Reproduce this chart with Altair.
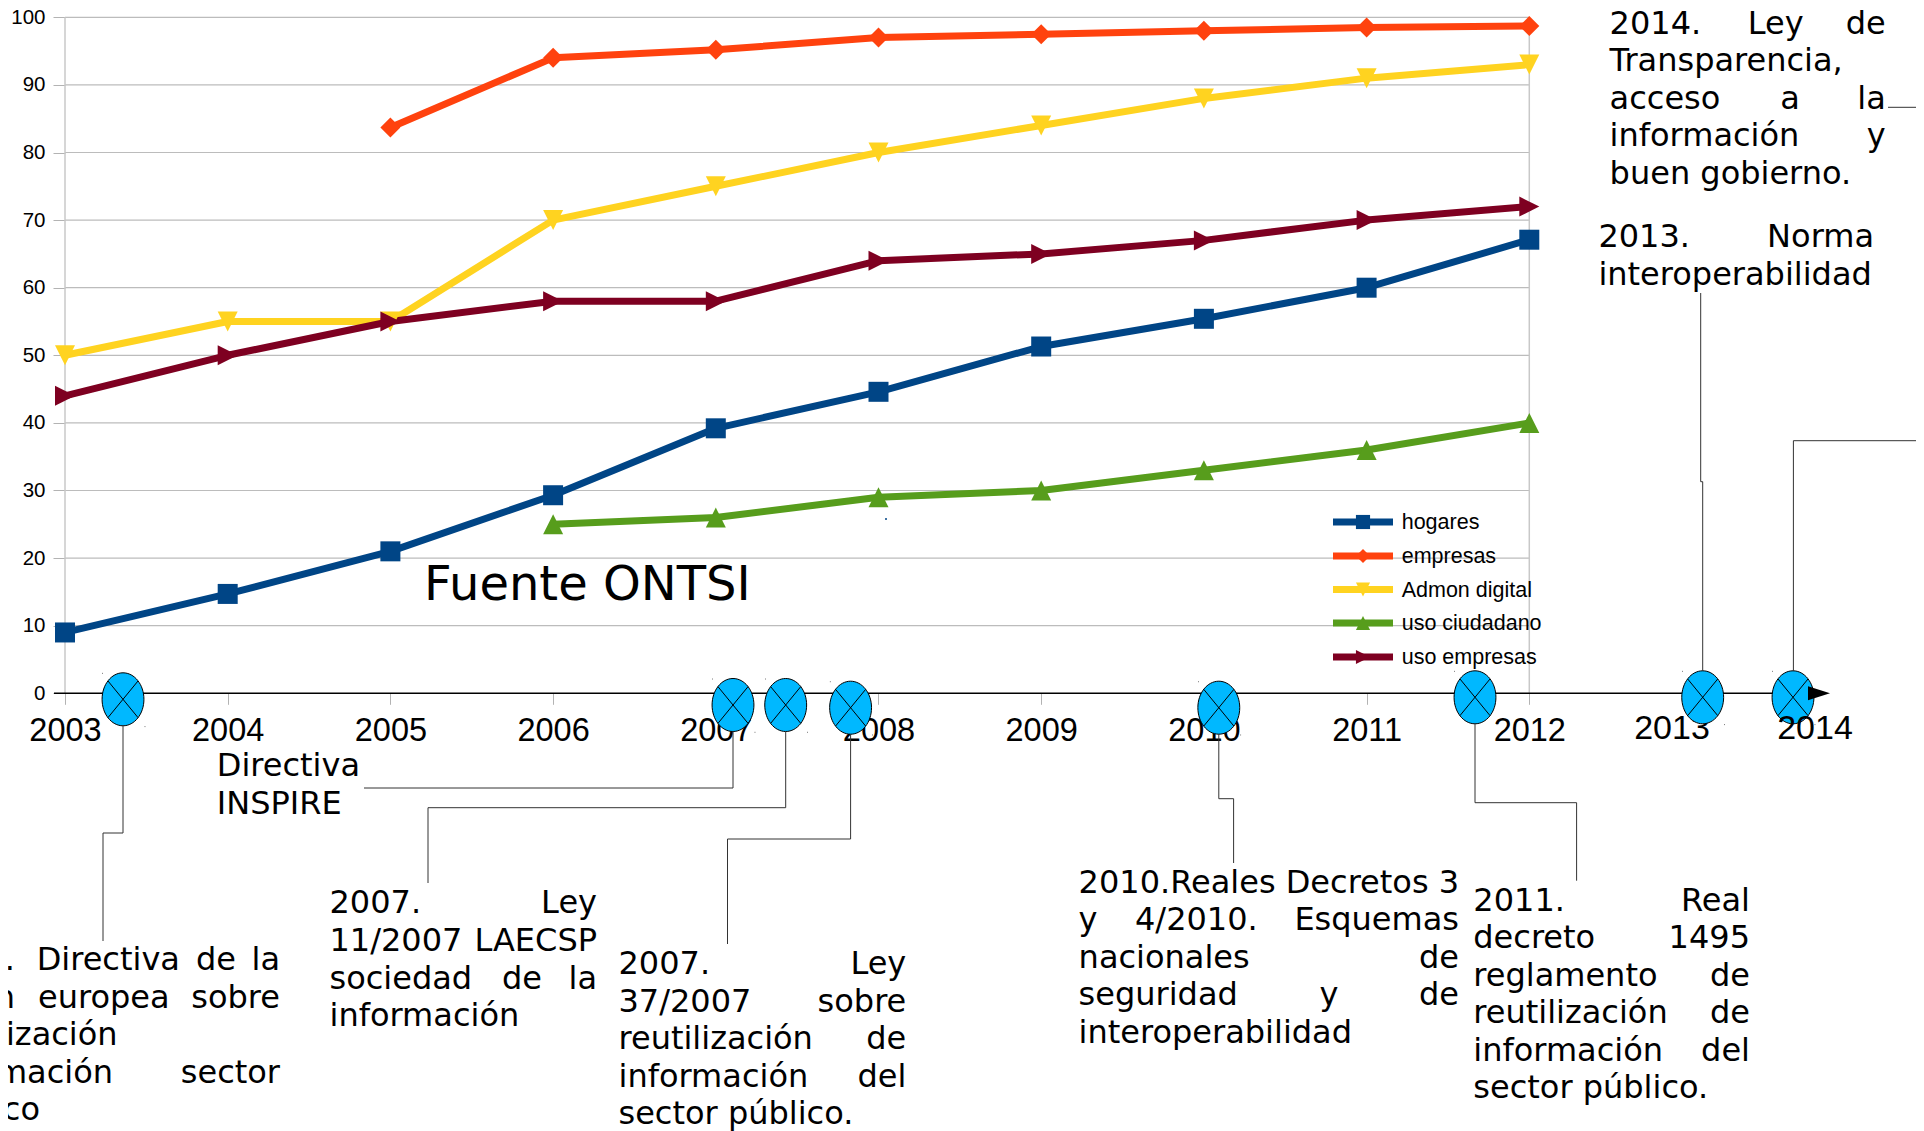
import altair as alt
import pandas as pd

years = [2003, 2004, 2005, 2006, 2007, 2008, 2009, 2010, 2011, 2012]
hogares = [9, 14.7, 21, 29.3, 39.2, 44.6, 51.3, 55.4, 60, 67.1]
empresas = [None, None, 83.7, 94, 95.2, 97, 97.5, 98, 98.5, 98.7]
admon = [50, 55, 55, 70, 75, 80, 84, 88, 91, 93]
ciudadano = [None, None, None, 25, 26, 29, 30, 33, 36, 40]
uso_empresas = [44, 50, 55, 58, 58, 64, 65, 67, 70, 72]

series_names = ["hogares", "empresas", "Admon digital", "uso ciudadano", "uso empresas"]
series_values = [hogares, empresas, admon, ciudadano, uso_empresas]
series_colors = ["#004586", "#ff420e", "#ffd320", "#579d1c", "#7e0021"]
series_shapes = [
    "M-1,-1L1,-1L1,1L-1,1Z",
    "M0,-1L1,0L0,1L-1,0Z",
    "M-1,-1L1,-1L0,1Z",
    "M0,-1L1,1L-1,1Z",
    "M-1,-1L1,0L-1,1Z",
]

W, H = 1908, 1123
font_body = "DejaVu Sans"
font_chart = "Liberation Sans"


def xd(px):
    """Page pixel column to year units."""
    return 2003 + (px - 65) / 162.7


def yd(py):
    """Page pixel row to percent units."""
    return (693.3 - py) / 6.76


xs = alt.Scale(domain=[xd(8), xd(8 + W)], range=[0, W], nice=False, zero=False)
ys = alt.Scale(domain=[yd(8 + H), yd(8)], range=[H, 0], nice=False, zero=False)


def X(f, **kw):
    return alt.X(f, type="quantitative", scale=xs, axis=kw.pop("axis", None), **kw)


def Y(f, **kw):
    return alt.Y(f, type="quantitative", scale=ys, axis=kw.pop("axis", None), **kw)


rows = []
for n, vals in zip(series_names, series_values):
    for yr, v in zip(years, vals):
        if v is not None:
            rows.append({"year": yr, "value": v, "serie": n})
df = pd.DataFrame(rows)

color = alt.Color("serie:N", scale=alt.Scale(domain=series_names, range=series_colors), legend=None)
shape = alt.Shape("serie:N", scale=alt.Scale(domain=series_names, range=series_shapes), legend=None)

# grid -----------------------------------------------------------------
grid_vals = list(range(10, 101, 10))
grid = alt.Chart(pd.DataFrame({"v": grid_vals, "a": 2003, "b": 2012})).mark_rule(
    color="#bcbcbc", strokeWidth=1.2
).encode(x=X("a:Q"), x2="b:Q", y=Y("v:Q"))
vgrid = alt.Chart(pd.DataFrame({"x": [2003, 2012], "a": 0, "b": 100})).mark_rule(
    color="#c8c8c8", strokeWidth=1.5
).encode(x=X("x:Q"), y=Y("a:Q"), y2="b:Q")

# real axes, pulled into the plot with negative offsets ------------------
axis_x = alt.Axis(
    values=years, format="d", orient="bottom", offset=-(H - (693.3 - 8)), domain=False, grid=False,
    ticks=True, tickSize=11, tickColor="#b3b3b3", labelFont=font_chart, labelFontSize=32.5, labelColor="#000000",
    labelPadding=10.5, labelOverlap=False, labelFlush=False, title=None,
)
axis_y = alt.Axis(
    values=[0] + grid_vals, orient="left", offset=-(65 - 8), domain=False, grid=False,
    ticks=True, tickSize=12, tickColor="#b3b3b3", labelFont=font_chart, labelFontSize=20.5, labelColor="#000000",
    labelPadding=8, labelOverlap=False, labelFlush=False, title=None,
)
axes = alt.Chart(pd.DataFrame({"x": [2003], "y": [0]})).mark_point(opacity=0).encode(
    x=X("x:Q", axis=axis_x), y=Y("y:Q", axis=axis_y)
)

lines = alt.Chart(df).mark_line(strokeWidth=7, strokeJoin="round").encode(
    x=X("year:Q"), y=Y("value:Q"), color=color, detail="serie:N"
)
points = alt.Chart(df).mark_point(filled=True, size=400, opacity=1).encode(
    x=X("year:Q"), y=Y("value:Q"), color=color, shape=shape
)

# legend built from the series lists ------------------------------------
legend_line_a = [1333] * 5
legend_line_b = [1393] * 5
legend_y = [522, 556, 589.5, 623, 657]
legend_text_x = [1401.7] * 5
legend_base = [529.3, 563, 596.7, 630, 663.5]
ldf = pd.DataFrame({
    "serie": series_names,
    "a": [xd(v) for v in legend_line_a],
    "b": [xd(v) for v in legend_line_b],
    "m": [xd((p + q) / 2) for p, q in zip(legend_line_a, legend_line_b)],
    "y": [yd(v) for v in legend_y],
    "tx": [xd(v) for v in legend_text_x],
    "ty": [yd(v) for v in legend_base],
})
leg_rule = alt.Chart(ldf).mark_rule(strokeWidth=7).encode(x=X("a:Q"), x2="b:Q", y=Y("y:Q"), color=color)
leg_pts = alt.Chart(ldf).mark_point(filled=True, size=200, opacity=1).encode(x=X("m:Q"), y=Y("y:Q"), color=color, shape=shape)
leg_txt = alt.Chart(ldf).mark_text(
    align="left", baseline="alphabetic", font=font_chart, fontSize=21.5, color="#000000"
).encode(x=X("tx:Q"), y=Y("ty:Q"), text="serie:N")

# timeline ---------------------------------------------------------------
axis_line = alt.Chart(pd.DataFrame({"a": [xd(54)], "b": [xd(1812)], "y": [0]})).mark_rule(
    color="#000000", strokeWidth=1.6
).encode(x=X("a:Q"), x2="b:Q", y=Y("y:Q"))

arrow_shape = "M-1,-0.64L1,0L-1,0.64Z"
arrow = alt.Chart(pd.DataFrame({"x": [xd(1819)], "y": [0]})).mark_point(
    shape=arrow_shape, filled=True, color="#000000", size=484, opacity=1
).encode(x=X("x:Q"), y=Y("y:Q"))

ellipse_x = [123, 733, 785.7, 850.6, 1218.8, 1475, 1702.7, 1793]
ellipse_y = [699.3, 705, 705, 707.7, 707.7, 697.3, 697.3, 697.3]
ellipse_path = (
    "M-0.79,0A0.79,1 0 1 0 0.79,0A0.79,1 0 1 0 -0.79,0Z"
    "M-0.566,-0.69L0.566,0.69M0.566,-0.69L-0.566,0.69"
    "M-0.78,-0.98L-0.76,-0.98M0.82,1.03L0.84,1.03"
)
ell = alt.Chart(pd.DataFrame({"x": [xd(v) for v in ellipse_x], "y": [yd(v) for v in ellipse_y]})).mark_point(
    shape=ellipse_path, filled=False, fill="#00b8ff", stroke="#000000", strokeWidth=1, size=2809, opacity=1, fillOpacity=1
).encode(x=X("x:Q"), y=Y("y:Q"))

dot = alt.Chart(pd.DataFrame({"x": [xd(886)], "y": [yd(519)]})).mark_point(
    filled=True, color="#004586", size=4, opacity=1
).encode(x=X("x:Q"), y=Y("y:Q"))

# extra years on the timeline
y2013 = alt.Chart(pd.DataFrame({"x": [xd(1672)], "y": [yd(739)], "t": ["2013"]})).mark_text(
    font=font_chart, fontSize=34, baseline="alphabetic", color="#000000"
).encode(x=X("x:Q"), y=Y("y:Q"), text="t:N")
y2014 = alt.Chart(pd.DataFrame({"x": [xd(1815)], "y": [yd(739)], "t": ["2014"]})).mark_text(
    font=font_chart, fontSize=34, baseline="alphabetic", color="#000000"
).encode(x=X("x:Q"), y=Y("y:Q"), text="t:N")

# leader lines -----------------------------------------------------------
leaders = [
    [(123, 725), (123, 833), (103, 833), (103, 941)],
    [(733, 731), (733, 788), (364, 788)],
    [(785.7, 731), (785.7, 807.7), (428, 807.7), (428, 883)],
    [(850.6, 734), (850.6, 839), (727.5, 839), (727.5, 944)],
    [(1218.8, 734), (1218.8, 798.7), (1233.6, 798.7), (1233.6, 863)],
    [(1475, 724), (1475, 802.7), (1576.6, 802.7), (1576.6, 880.7)],
    [(1702.7, 671), (1702.7, 481.7), (1700.7, 481.7), (1700.7, 293)],
    [(1793.4, 671), (1793.4, 440.7), (1924, 440.7)],
    [(1888, 107.3), (1924, 107.3)],
]
lrows = []
for i, seg in enumerate(leaders):
    for j, (a, b) in enumerate(seg):
        lrows.append({"id": i, "o": j, "x": xd(a), "y": yd(b)})
lead = alt.Chart(pd.DataFrame(lrows)).mark_line(color="#333333", strokeWidth=1).encode(
    x=X("x:Q"), y=Y("y:Q"), detail="id:N", order="o:Q"
)

# annotation texts: (text, column, baseline row, alignment) -------------
words = [
    # 2003
    ("2003.", 15, 970, "right"), ("Directiva", 36.7, 970, "left"), ("de", 196, 970, "left"), ("la", 280, 970, "right"),
    ("Unión", 15, 1008, "right"), ("europea", 38, 1008, "left"), ("sobre", 280, 1008, "right"),
    ("reutilización", 117.6, 1045, "right"),
    ("información", 113, 1083, "right"), ("sector", 280, 1083, "right"),
    ("público", 40, 1120, "right"),
    # INSPIRE
    ("Directiva", 216.8, 776, "left"), ("INSPIRE", 216.8, 813.5, "left"),
    # Ley 11/2007
    ("2007.", 329.5, 913, "left"), ("Ley", 597, 913, "right"),
    ("11/2007", 329.5, 950.7, "left"), ("LAECSP", 597, 950.7, "right"),
    ("sociedad", 329.5, 989, "left"), ("de", 502, 989, "left"), ("la", 597, 989, "right"),
    ("información", 329.5, 1026, "left"),
    # Ley 37/2007
    ("2007.", 618.5, 974.3, "left"), ("Ley", 906.3, 974.3, "right"),
    ("37/2007", 618.5, 1012, "left"), ("sobre", 906.3, 1012, "right"),
    ("reutilización", 618.5, 1049, "left"), ("de", 906.3, 1049, "right"),
    ("información", 618.5, 1086.7, "left"), ("del", 906.3, 1086.7, "right"),
    ("sector público.", 618.5, 1124, "left"),
    # 2010
    ("2010.Reales Decretos 3", 1078.6, 892.7, "left"),
    ("y", 1078.6, 929.8, "left"), ("4/2010.", 1135, 929.8, "left"), ("Esquemas", 1459, 929.8, "right"),
    ("nacionales", 1078.6, 967.8, "left"), ("de", 1459, 967.8, "right"),
    ("seguridad", 1078.6, 1005, "left"), ("y", 1319.6, 1005, "left"), ("de", 1459, 1005, "right"),
    ("interoperabilidad", 1078.6, 1042.7, "left"),
    # 2011
    ("2011.", 1473.3, 910.5, "left"), ("Real", 1750, 910.5, "right"),
    ("decreto", 1473.3, 947.8, "left"), ("1495", 1750, 947.8, "right"),
    ("reglamento", 1473.3, 985.5, "left"), ("de", 1750, 985.5, "right"),
    ("reutilización", 1473.3, 1022.8, "left"), ("de", 1750, 1022.8, "right"),
    ("información", 1473.3, 1060.5, "left"), ("del", 1750, 1060.5, "right"),
    ("sector público.", 1473.3, 1098, "left"),
    # 2013
    ("2013.", 1598.4, 246.7, "left"), ("Norma", 1874, 246.7, "right"),
    ("interoperabilidad", 1598.4, 284.8, "left"),
    # 2014
    ("2014.", 1609.6, 34, "left"), ("Ley", 1747.7, 34, "left"), ("de", 1885.8, 34, "right"),
    ("Transparencia,", 1609.6, 71.2, "left"),
    ("acceso", 1609.6, 109, "left"), ("a", 1780.3, 109, "left"), ("la", 1885.8, 109, "right"),
    ("información", 1609.6, 146.2, "left"), ("y", 1885.8, 146.2, "right"),
    ("buen gobierno.", 1609.6, 184, "left"),
]
wdf = pd.DataFrame([{"t": t, "x": xd(a), "y": yd(b), "al": al} for t, a, b, al in words])
txt_l = alt.Chart(wdf[wdf.al == "left"]).mark_text(
    align="left", baseline="alphabetic", font=font_body, fontSize=32, color="#000000"
).encode(x=X("x:Q"), y=Y("y:Q"), text="t:N")
txt_r = alt.Chart(wdf[wdf.al == "right"]).mark_text(
    align="right", baseline="alphabetic", font=font_body, fontSize=32, color="#000000"
).encode(x=X("x:Q"), y=Y("y:Q"), text="t:N")
source = alt.Chart(pd.DataFrame({"t": ["Fuente ONTSI"], "x": [xd(424)], "y": [yd(599.5)]})).mark_text(
    align="left", baseline="alphabetic", font=font_body, fontSize=48, color="#000000"
).encode(x=X("x:Q"), y=Y("y:Q"), text="t:N")

chart = alt.layer(
    axes, grid, vgrid, lines, points, source, leg_rule, leg_pts, leg_txt, dot,
    y2013, axis_line, ell, y2014, arrow, lead, txt_l, txt_r,
).resolve_axis(x="independent", y="independent").properties(
    width=W, height=H, padding=0, autosize=alt.AutoSizeParams(type="none"), background="#ffffff"
).configure_view(stroke=None)

chart.save("out.html", embed_options={"renderer": "svg", "actions": False})
